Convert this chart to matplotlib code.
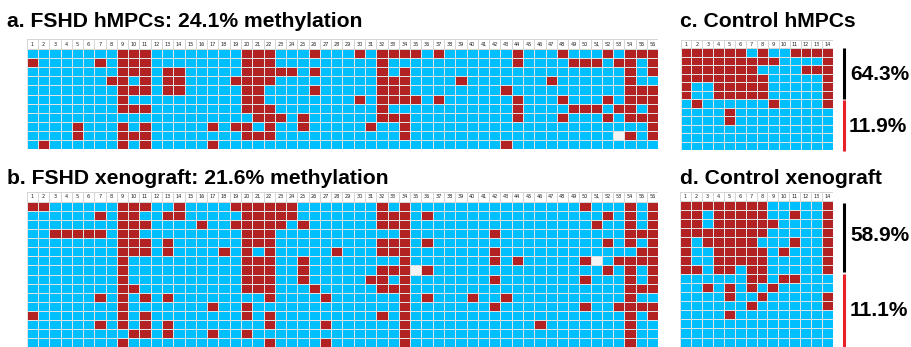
import numpy as np
import matplotlib
matplotlib.use("Agg")
from matplotlib import pyplot as plt
from matplotlib.colors import ListedColormap

# methylated CpG positions (1-based column numbers) for each clone / row
fshd_hmpc = [
    [9, 10, 11, 20, 21, 22, 26, 30, 32, 33, 34, 35, 37, 44, 48, 52, 54, 55, 56],
    [1, 7, 9, 10, 11, 20, 21, 22, 32, 44, 49, 50, 51, 53, 54, 56],
    [9, 10, 11, 13, 14, 20, 21, 22, 23, 24, 26, 32, 34, 54, 56],
    [8, 9, 11, 13, 14, 19, 20, 21, 22, 32, 33, 34, 39, 47, 54],
    [9, 10, 11, 13, 14, 20, 21, 26, 32, 33, 34, 43, 54, 55, 56],
    [9, 20, 21, 30, 32, 33, 34, 35, 37, 44, 48, 52, 54, 55, 56],
    [9, 10, 11, 20, 21, 22, 32, 44, 49, 50, 51, 53, 54, 56],
    [21, 22, 23, 25, 32, 33, 34, 44, 48, 52, 54, 55, 56],
    [5, 9, 11, 17, 19, 20, 22, 25, 31, 34, 56],
    [5, 9, 10, 11, 20, 21, 22, 34, 54, 56],
    [2, 9, 11, 17, 43],
]
fshd_hmpc_missing = [(10, 53)]

fshd_xeno = [
    [1, 2, 9, 10, 11, 14, 19, 20, 21, 22, 23, 24, 32, 34, 50, 54, 56],
    [7, 9, 10, 13, 14, 20, 21, 22, 23, 24, 32, 33, 34, 36, 52, 54, 56],
    [9, 10, 11, 16, 19, 20, 21, 22, 23, 25, 32, 33, 34, 51, 54, 56],
    [3, 4, 5, 6, 7, 9, 10, 20, 21, 22, 34, 42, 54, 55, 56],
    [9, 10, 11, 13, 20, 21, 22, 32, 33, 34, 36, 52, 54, 56],
    [9, 10, 11, 13, 18, 20, 22, 28, 32, 33, 34, 42, 55, 56],
    [9, 20, 21, 22, 25, 34, 42, 44, 50, 53, 54, 55, 56],
    [9, 20, 21, 22, 25, 32, 33, 34, 36, 52, 54, 56],
    [9, 20, 21, 22, 25, 31, 32, 34, 42, 50, 54, 56],
    [9, 10, 20, 21, 22, 26, 32, 33, 34, 54, 55, 56],
    [7, 9, 11, 13, 22, 27, 34, 36, 40, 43, 54],
    [9, 17, 20, 34, 42, 50, 53, 54, 55, 56],
    [1, 9, 11, 20, 22, 32, 34, 54, 56],
    [7, 9, 11, 13, 22, 27, 34, 46, 54],
    [10, 11, 13, 17, 20, 34, 54],
    [9, 22, 27, 34, 54],
]
fshd_xeno_missing = [(7, 51), (8, 35)]

ctrl_hmpc = [
    [1, 2, 3, 4, 5, 6, 8, 11, 12, 13, 14],
    [1, 2, 3, 4, 5, 6, 7, 8, 9, 14],
    [1, 2, 3, 4, 5, 6, 7, 12, 13, 14],
    [1, 2, 3, 4, 5, 6, 7, 8, 14],
    [1, 4, 5, 6, 7, 8, 14],
    [1, 4, 5, 6, 7, 8, 14],
    [2, 9, 14],
    [5],
    [5],
    [], [], [],
]

ctrl_xeno = [
    [1, 2, 3, 4, 5, 6, 7, 8, 14],
    [1, 2, 4, 5, 6, 7, 8, 11, 14],
    [1, 2, 4, 5, 6, 7, 8, 9, 14],
    [1, 2, 3, 4, 5, 6, 7, 8, 14],
    [1, 3, 4, 5, 6, 7, 11, 14],
    [1, 4, 5, 6, 7, 8, 10, 14],
    [1, 4, 5, 6, 7, 8, 14],
    [1, 2, 4, 5, 7, 8, 14],
    [7, 8, 10, 11],
    [3, 5, 7, 9],
    [5, 8, 14],
    [7, 14],
    [5],
    [], [], [],
]

titles = ["a. FSHD hMPCs: 24.1% methylation", "b. FSHD xenograft: 21.6% methylation",
          "c. Control hMPCs", "d. Control xenograft"]
ctrl_hmpc_pct = ["64.3%", "11.9%"]
ctrl_xeno_pct = ["58.9%", "11.1%"]

W, H = 911, 347
BLUE = "#00bfff"
RED = "#b22222"
cmap = ListedColormap(["#f4f4f4", BLUE, RED])


def build(rows, ncols, missing=()):
    m = np.ones((len(rows), ncols))
    for i, r in enumerate(rows):
        for c in r:
            m[i, c - 1] = 2
    for r, c in missing:
        m[r - 1, c - 1] = 0
    return m


def panel(fig, m, x0, x1, yh, yg, y1):
    nrows, ncols = m.shape
    ax = fig.add_axes([x0 / W, 1 - y1 / H, (x1 - x0) / W, (y1 - yh) / H])
    rh = (y1 - yg) / nrows
    hh = (yg - yh) / rh
    ax.pcolormesh(np.arange(ncols + 1), np.arange(nrows + 1), m, cmap=cmap,
                  vmin=0, vmax=2, edgecolors="#e2e2e2", linewidth=0.7)
    # header row with CpG numbers
    ax.pcolormesh(np.arange(ncols + 1), [-hh, 0], np.zeros((1, ncols)),
                  cmap=ListedColormap(["white"]), edgecolors="#d6d6d6", linewidth=0.7)
    for j in range(ncols):
        ax.text(j + 0.5, -hh / 2, str(j + 1), ha="center", va="center",
                fontsize=3.6, color="#222222")
    ax.set_xlim(0, ncols)
    ax.set_ylim(nrows, -hh)
    ax.axis("off")
    return ax


fig = plt.figure(figsize=(W / 100, H / 100), dpi=100)

panel(fig, build(fshd_hmpc, 56, fshd_hmpc_missing), 26.7, 658.3, 39, 49, 149.3)
panel(fig, build(fshd_xeno, 56, fshd_xeno_missing), 26.7, 658.3, 192, 201.7, 347.3)
panel(fig, build(ctrl_hmpc, 14), 680.5, 833.3, 40, 48.3, 150)
panel(fig, build(ctrl_xeno, 14), 680, 833, 191.7, 201, 346.6)

# overlay in pixel coordinates for titles, bars and percentages
ov = fig.add_axes([0, 0, 1, 1])
ov.set_xlim(0, W)
ov.set_ylim(H, 0)
ov.axis("off")
ov.patch.set_alpha(0)

tfont = dict(fontsize=15.2, fontweight="bold", family=["Liberation Sans", "DejaVu Sans"],
             va="baseline", ha="left")
ov.text(7, 27, titles[0], **tfont)
ov.text(7, 183.5, titles[1], **tfont)
ov.text(680, 27, titles[2], **tfont)
ov.text(680, 183.5, titles[3], **tfont)

ov.plot([843.5, 843.5], [48, 98.5], color="black", lw=2.2, solid_capstyle="butt")
ov.plot([843.5, 843.5], [100, 151], color="#e8202a", lw=2.2, solid_capstyle="butt")
ov.plot([844, 844], [203.3, 272.3], color="black", lw=2.2, solid_capstyle="butt")
ov.plot([844, 844], [274.3, 347], color="#e8202a", lw=2.2, solid_capstyle="butt")

pfont = dict(fontsize=15, fontweight="bold", family=["Liberation Sans", "DejaVu Sans"],
             va="center", ha="left")
ov.text(850, 74, ctrl_hmpc_pct[0], **pfont)
ov.text(849, 126, ctrl_hmpc_pct[1], **pfont)
ov.text(850.5, 235, ctrl_xeno_pct[0], **pfont)
ov.text(850, 310, ctrl_xeno_pct[1], **pfont)

fig.savefig("out.png", dpi=100)
